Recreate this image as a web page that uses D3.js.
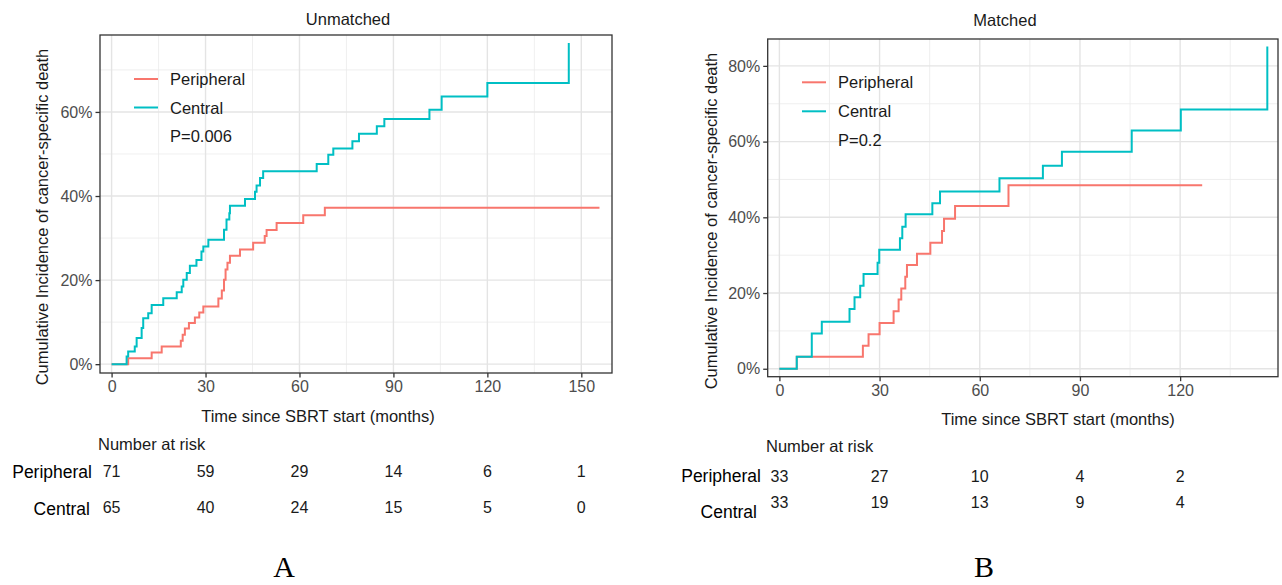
<!DOCTYPE html>
<html>
<head>
<meta charset="utf-8">
<script src="https://cdn.jsdelivr.net/npm/d3@7"></script>
<style>
  body { margin: 0; background: #fff; }
  svg text { font-family: "Liberation Sans", Arial, sans-serif; }
</style>
</head>
<body>
<div id="chart"></div>
<script>
// DATA ===========================================================================================
const groups = ['Peripheral', 'Central']
const colors = ['#F8766D', '#00BFC4']

// A - unmatched: step times (months) and cumulative incidence (%)
const unmPeriT  = [0, 5.3, 12.8, 16.0, 22.1, 22.7, 23.4, 24.7, 26.6, 28.0, 29.3, 34.1, 35.2, 35.9, 36.4, 37.0, 37.8, 41.0, 45.2, 48.9, 49.5, 52.7, 61.2, 68.1, 155.8]
const unmPeriCI = [0, 1.4, 2.8, 4.2, 5.6, 7.0, 8.5, 9.8, 11.1, 12.3, 13.7, 15.6, 17.5, 20.1, 22.5, 24.1, 25.8, 27.3, 28.9, 30.5, 31.9, 33.6, 35.4, 37.2, 37.2]
const unmCentT  = [0, 4.8, 5.3, 7.4, 8.0, 9.6, 10.1, 11.7, 12.8, 16.5, 20.8, 22.4, 22.9, 24.0, 25.0, 27.1, 28.7, 29.3, 30.9, 35.9, 36.7, 37.6, 37.8, 42.6, 45.8, 46.3, 47.4, 48.4, 65.5, 69.2, 70.8, 76.9, 79.0, 84.7, 87.1, 101.5, 105.4, 120.0, 146.0]
const unmCentCI = [0, 1.8, 3.0, 4.2, 6.2, 8.6, 10.9, 12.1, 14.1, 15.7, 17.1, 18.5, 20.1, 21.7, 23.4, 24.8, 26.8, 28.0, 29.6, 32.0, 34.4, 35.9, 37.7, 39.3, 41.0, 42.5, 44.3, 45.9, 47.6, 49.8, 51.3, 53.0, 54.8, 56.6, 58.3, 60.5, 63.7, 66.9, 76.4]
const unmRiskTimes = [0, 30, 60, 90, 120, 150]
const unmRiskPeri  = [71, 59, 29, 14, 6, 1]
const unmRiskCent  = [65, 40, 24, 15, 5, 0]
const unmP = 'P=0.006'

// B - matched
const matPeriT  = [0, 5.2, 25.0, 26.7, 30.0, 34.2, 35.7, 36.5, 37.7, 38.2, 41.2, 45.2, 48.7, 49.3, 52.6, 68.6, 126.6]
const matPeriCI = [0, 3.2, 6.1, 9.1, 12.1, 15.2, 18.3, 21.2, 24.3, 27.4, 30.4, 33.3, 36.4, 39.6, 43.0, 48.5, 48.5]
const matCentT  = [0, 5.2, 9.7, 12.7, 21.0, 22.5, 24.2, 25.2, 29.4, 29.9, 36.1, 36.8, 37.8, 45.8, 48.1, 65.9, 78.9, 84.6, 105.5, 120.2, 146.1]
const matCentCI = [0, 3.2, 9.3, 12.4, 15.8, 18.9, 21.9, 25.0, 28.0, 31.4, 34.5, 37.5, 40.8, 43.7, 46.8, 50.3, 53.6, 57.3, 62.9, 68.5, 85.1]
const matRiskTimes = [0, 30, 60, 90, 120]
const matRiskPeri  = [33, 27, 10, 4, 2]
const matRiskCent  = [33, 19, 13, 9, 4]
const matP = 'P=0.2'

// axis ticks
const unmXTicks = [0, 30, 60, 90, 120, 150]
const unmYTicks = [0, 20, 40, 60]
const matXTicks = [0, 30, 60, 90, 120]
const matYTicks = [0, 20, 40, 60, 80]
const xMinorTicks = [15, 45, 75, 105, 135]
const yMinorTicks = [10, 30, 50, 70]

const yTitle = 'Cumulative Incidence of cancer-specific death'
const xTitle = 'Time since SBRT start (months)'

// SET UP =========================================================================================
const svg = d3.select('#chart')
  .append('svg')
  .attr('width', 1282)
  .attr('height', 585)

const zip = (t, v) => t.map((d, i) => ({t: d, v: v[i]}))

function drawPanel(p) {
  const x = d3.scaleLinear().domain(p.xDomain).range([p.left, p.right])
  const y = d3.scaleLinear().domain(p.yDomain).range([p.bottom, p.top])
  const g = svg.append('g')

  // grid
  g.selectAll('.xminor').data(xMinorTicks).join('line')
    .attr('x1', d => x(d)).attr('x2', d => x(d)).attr('y1', p.top).attr('y2', p.bottom)
    .attr('stroke', '#ebebeb').attr('stroke-width', 0.8)
  g.selectAll('.yminor').data(yMinorTicks.filter(d => d < p.yDomain[1])).join('line')
    .attr('y1', d => y(d)).attr('y2', d => y(d)).attr('x1', p.left).attr('x2', p.right)
    .attr('stroke', '#ebebeb').attr('stroke-width', 0.8)
  g.selectAll('.xmajor').data(p.xTicks).join('line')
    .attr('x1', d => x(d)).attr('x2', d => x(d)).attr('y1', p.top).attr('y2', p.bottom)
    .attr('stroke', '#e4e4e4').attr('stroke-width', 1.4)
  g.selectAll('.ymajor').data(p.yTicks).join('line')
    .attr('y1', d => y(d)).attr('y2', d => y(d)).attr('x1', p.left).attr('x2', p.right)
    .attr('stroke', '#e4e4e4').attr('stroke-width', 1.4)

  // curves
  const line = d3.line().x(d => x(d.t)).y(d => y(d.v)).curve(d3.curveStepAfter)
  p.series.forEach((s, i) => {
    g.append('path')
      .datum(zip(s.t, s.v))
      .attr('fill', 'none')
      .attr('stroke', colors[i])
      .attr('stroke-width', 2)
      .attr('d', line)
  })

  // border
  g.append('rect')
    .attr('x', p.left).attr('y', p.top)
    .attr('width', p.right - p.left).attr('height', p.bottom - p.top)
    .attr('fill', 'none').attr('stroke', '#333').attr('stroke-width', 1.3)

  // axes
  const xAxis = g.append('g')
    .attr('transform', `translate(0, ${p.bottom})`)
    .call(d3.axisBottom(x).tickValues(p.xTicks).tickSize(4.5).tickPadding(3))
  const yAxis = g.append('g')
    .attr('transform', `translate(${p.left}, 0)`)
    .call(d3.axisLeft(y).tickValues(p.yTicks).tickSize(4.5).tickPadding(3).tickFormat(d => d + '%'))
  ;[xAxis, yAxis].forEach(a => {
    a.select('.domain').remove()
    a.selectAll('.tick line').attr('stroke', '#333').attr('stroke-width', 1.3)
    a.selectAll('.tick text').attr('fill', '#4d4d4d').style('font-size', '16px')
  })

  // titles
  g.append('text').attr('x', p.titleX).attr('y', p.titleY).attr('text-anchor', 'middle')
    .style('font-size', '16.5px').attr('fill', '#1a1a1a').text(p.title)
  g.append('text').attr('x', p.xTitleX).attr('y', p.xTitleY).attr('text-anchor', 'middle')
    .style('font-size', '16.5px').attr('fill', '#1a1a1a').text(xTitle)
  g.append('text')
    .attr('transform', `translate(${p.yTitleX}, ${p.yTitleY}) rotate(-90)`)
    .attr('text-anchor', 'middle').attr('dy', '0.35em')
    .style('font-size', '16.5px').attr('fill', '#1a1a1a').text(yTitle)

  // legend
  groups.forEach((name, i) => {
    const ly = p.legY + i * p.legStep
    g.append('line').attr('x1', p.legX).attr('x2', p.legX + 24).attr('y1', ly).attr('y2', ly)
      .attr('stroke', colors[i]).attr('stroke-width', 2)
    g.append('text').attr('x', p.legX + 36).attr('y', ly + 6)
      .style('font-size', '16.5px').attr('fill', '#1a1a1a').text(name)
  })
  g.append('text').attr('x', p.legX + 36).attr('y', p.legY + 2 * p.legStep + 6)
    .style('font-size', '16.5px').attr('fill', '#1a1a1a').text(p.pval)

  // number at risk
  g.append('text').attr('x', p.riskTitleX).attr('y', p.riskTitleY)
    .style('font-size', '16.5px').attr('fill', '#1a1a1a').text('Number at risk')
  p.risk.forEach((row, i) => {
    g.append('text').attr('x', p.rowLabelX[i]).attr('y', p.rowLabelY[i]).attr('text-anchor', 'end')
      .style('font-size', '17.5px').attr('fill', '#000').text(groups[i])
    g.selectAll(null).data(row).join('text')
      .attr('x', (d, j) => x(p.riskTimes[j]))
      .attr('y', p.rowNumY[i])
      .attr('text-anchor', 'middle')
      .style('font-size', '16px').attr('fill', '#1a1a1a')
      .text(d => d)
  })

  // panel letter
  g.append('text').attr('x', p.letterX).attr('y', p.letterY).attr('text-anchor', 'middle')
    .style('font-family', '"Liberation Serif", "Times New Roman", serif')
    .style('font-size', '30px').attr('fill', '#000').text(p.letter)
}

// MARKS ==========================================================================================
drawPanel({
  left: 100, right: 612, top: 35, bottom: 373,
  xDomain: [-3.7, 159.8], yDomain: [-2.1, 78.3],
  xTicks: unmXTicks, yTicks: unmYTicks,
  series: [{t: unmPeriT, v: unmPeriCI}, {t: unmCentT, v: unmCentCI}],
  title: 'Unmatched', titleX: 348, titleY: 25,
  xTitleX: 318, xTitleY: 422, yTitleX: 42, yTitleY: 217,
  legX: 134, legY: 79, legStep: 28.5, pval: unmP,
  riskTitleX: 98, riskTitleY: 450,
  risk: [unmRiskPeri, unmRiskCent], riskTimes: unmRiskTimes,
  rowLabelX: [92, 90], rowLabelY: [478, 515], rowNumY: [477, 513],
  letter: 'A', letterX: 284, letterY: 577
})

drawPanel({
  left: 767.7, right: 1278, top: 39, bottom: 376.7,
  xDomain: [-3.5, 149.3], yDomain: [-2.1, 87.1],
  xTicks: matXTicks, yTicks: matYTicks,
  series: [{t: matPeriT, v: matPeriCI}, {t: matCentT, v: matCentCI}],
  title: 'Matched', titleX: 1005, titleY: 26,
  xTitleX: 1058, xTitleY: 425, yTitleX: 711, yTitleY: 221,
  legX: 802, legY: 82.3, legStep: 29, pval: matP,
  riskTitleX: 766, riskTitleY: 452,
  risk: [matRiskPeri, matRiskCent], riskTimes: matRiskTimes,
  rowLabelX: [761, 757], rowLabelY: [482, 518], rowNumY: [482, 508],
  letter: 'B', letterX: 984, letterY: 577
})
</script>
</body>
</html>
